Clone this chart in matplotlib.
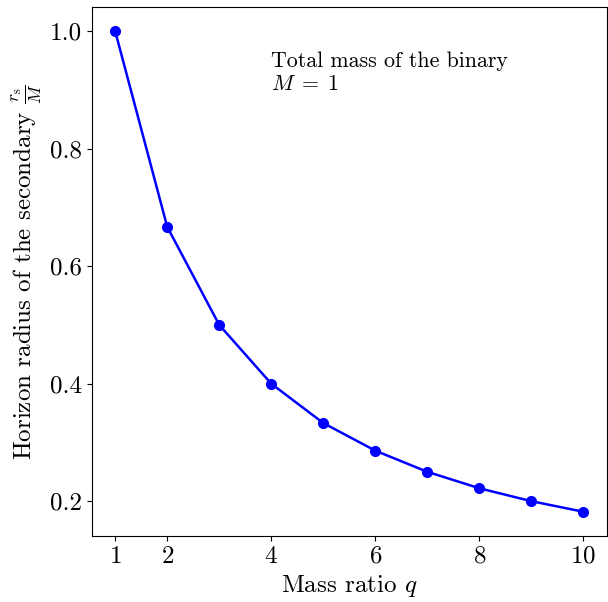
import matplotlib
matplotlib.use("Agg")
import matplotlib.pyplot as plt

plt.rcParams["font.family"] = "cmr10"
plt.rcParams["mathtext.fontset"] = "cm"
plt.rcParams["axes.formatter.use_mathtext"] = True

# mass ratio and horizon radius of the secondary
q = [1, 2, 3, 4, 5, 6, 7, 8, 9, 10]
r_s = [1.0, 0.667, 0.5, 0.4, 0.333, 0.286, 0.25, 0.222, 0.2, 0.182]
x_ticks = [1, 2, 4, 6, 8, 10]
y_ticks = [0.2, 0.4, 0.6, 0.8, 1.0]

fig = plt.figure(figsize=(6.08, 6.02), dpi=100)
ax = fig.add_axes([0.151, 0.110, 0.847, 0.878])

ax.plot(q, r_s, "o-", color="blue", markersize=7, linewidth=1.8)
ax.set_xticks(x_ticks)
ax.set_yticks(y_ticks)
ax.set_yticklabels([f"{v:.1f}" for v in y_ticks])
ax.tick_params(labelsize=18)
ax.set_xlabel(r"Mass ratio $q$", fontsize=18)
ax.set_ylabel(r"Horizon radius of the secondary $\frac{r_{\rm s}}{M}$", fontsize=18)
ax.text(4, 0.9, "Total mass of the binary\n$M\\;=\\;1$", fontsize=15.8)

fig.savefig("out.png", dpi=100)
